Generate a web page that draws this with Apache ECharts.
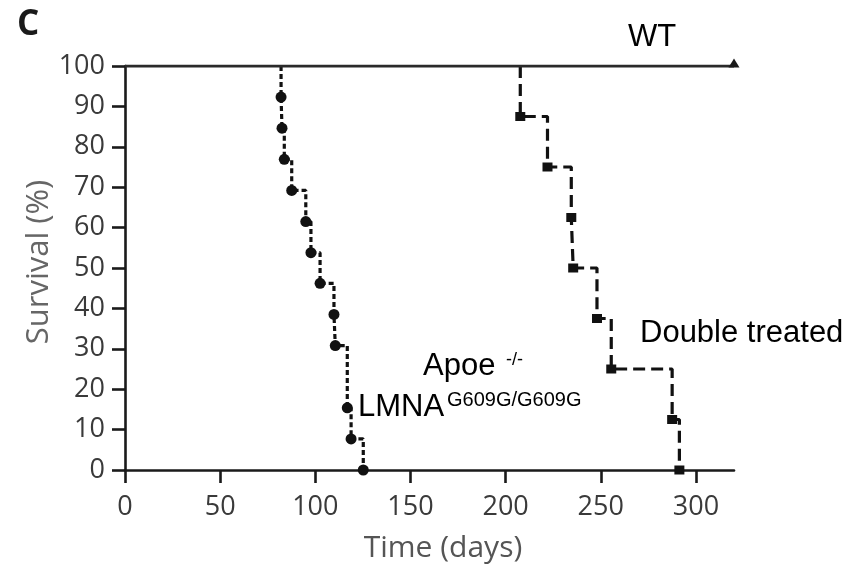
<!DOCTYPE html>
<html>
<head>
<meta charset="utf-8">
<script src="https://cdn.jsdelivr.net/npm/echarts@6/dist/echarts.min.js"></script>
<style>
  html, body { margin: 0; padding: 0; background: #fff; }
  #chart { width: 864px; height: 572px; }
</style>
</head>
<body>
<div id="chart"></div>
<script>
// tick labels
const xTicks = [0, 50, 100, 150, 200, 250, 300]
const yTicks = [0, 10, 20, 30, 40, 50, 60, 70, 80, 90, 100]

// WT: nobody died
const wtDays = [0, 320]
const wtSurv = [100, 100]

// Apoe-/- LMNA G609G/G609G
const mutDays = [82.0, 82.0, 82.5, 83.7, 87.6, 95.0, 97.7, 102.5, 109.8, 110.5, 116.8, 118.8, 125.2]
const mutSurv = [100, 92.3, 84.6, 76.9, 69.2, 61.5, 53.8, 46.2, 38.5, 30.8, 15.4, 7.7, 0]

// double treated
const dblDays = [207.7, 207.7, 222.0, 234.5, 235.5, 248.0, 255.5, 287.5, 291.3]
const dblSurv = [100, 87.5, 75, 62.5, 50, 37.5, 25, 12.5, 0]

const pair = (xs, ys) => xs.map((x, i) => [x, ys[i]])

const axisFont = 'Open Sans'
const noteFont = '"Liberation Sans", Arial, sans-serif'

const myChart = echarts.init(document.getElementById('chart'))
myChart.setOption({
  animation: false,
  grid: { left: 125, right: 130, top: 66, bottom: 102 },
  xAxis: {
    type: 'value',
    min: 0,
    max: 320,
    interval: 50,
    splitLine: { show: false },
    axisLine: { show: true, lineStyle: { color: '#1a1a1a', width: 2.6 } },
    axisTick: { show: true, length: 13, customValues: xTicks, lineStyle: { color: '#1a1a1a', width: 2.6 } },
    axisLabel: {
      customValues: xTicks,
      margin: 24,
      color: '#3a3a3a',
      fontFamily: axisFont,
      fontSize: 27,
    },
  },
  yAxis: {
    type: 'value',
    min: 0,
    max: 100,
    interval: 10,
    splitLine: { show: false },
    axisLine: { show: true, lineStyle: { color: '#1a1a1a', width: 2.6 } },
    axisTick: { show: true, length: 13, customValues: yTicks, lineStyle: { color: '#1a1a1a', width: 2.6 } },
    axisLabel: {
      customValues: yTicks,
      margin: 20,
      color: '#3a3a3a',
      fontFamily: axisFont,
      fontSize: 27,
    },
  },
  series: [
    {
      name: 'WT',
      type: 'line',
      data: pair(wtDays, wtSurv),
      symbol: 'triangle',
      symbolSize: (v, p) => (p.dataIndex === wtDays.length - 1 ? [11, 9] : 0),
      symbolOffset: [0, -3],
      showAllSymbol: true,
      itemStyle: { color: '#1a1a1a' },
      lineStyle: { color: '#2a2a2a', width: 3 },
      z: 3,
    },
    {
      name: 'Apoe-/- LMNA',
      type: 'line',
      step: 'end',
      data: pair(mutDays, mutSurv),
      symbol: 'circle',
      symbolSize: (v, p) => (p.dataIndex === 0 ? 0 : 11),
      showAllSymbol: true,
      itemStyle: { color: '#111' },
      lineStyle: { color: '#111', width: 3.2, type: [5, 3] },
      z: 2,
    },
    {
      name: 'Double treated',
      type: 'line',
      step: 'end',
      data: pair(dblDays, dblSurv),
      symbol: 'rect',
      symbolSize: (v, p) => (p.dataIndex === 0 ? 0 : [10, 9]),
      showAllSymbol: true,
      itemStyle: { color: '#111' },
      lineStyle: { color: '#111', width: 3.2, type: [12, 6] },
      z: 2,
    },
  ],
  graphic: [
    { type: 'text', x: 17, y: 25, style: { text: 'C', font: 'bold 35px "Open Sans"', fill: '#1a1a1a', align: 'left', verticalAlign: 'middle' } },
    { type: 'text', x: 39, y: 262, rotation: Math.PI / 2, style: { text: 'Survival (%)', font: '31px "Open Sans"', fill: '#666', align: 'center', verticalAlign: 'middle' } },
    { type: 'text', x: 443, y: 548, style: { text: 'Time (days)', font: '30px "Open Sans"', fill: '#555', align: 'center', verticalAlign: 'middle' } },
    { type: 'text', x: 628, y: 37, style: { text: 'WT', font: '31px ' + noteFont, fill: '#000', align: 'left', verticalAlign: 'middle' } },
    { type: 'text', x: 640, y: 333, style: { text: 'Double treated', font: '31px ' + noteFont, fill: '#000', align: 'left', verticalAlign: 'middle' } },
    { type: 'text', x: 423, y: 366.5, style: { text: 'Apoe', font: '31px ' + noteFont, fill: '#000', align: 'left', verticalAlign: 'middle' } },
    { type: 'text', x: 506, y: 360.5, style: { text: '-/-', font: '18px ' + noteFont, fill: '#000', align: 'left', verticalAlign: 'middle' } },
    { type: 'text', x: 358, y: 407.5, style: { text: 'LMNA', font: '31px ' + noteFont, fill: '#000', align: 'left', verticalAlign: 'middle' } },
    { type: 'text', x: 447, y: 400.5, style: { text: 'G609G/G609G', font: '20px ' + noteFont, fill: '#000', align: 'left', verticalAlign: 'middle' } },
  ],
})
</script>
</body>
</html>
